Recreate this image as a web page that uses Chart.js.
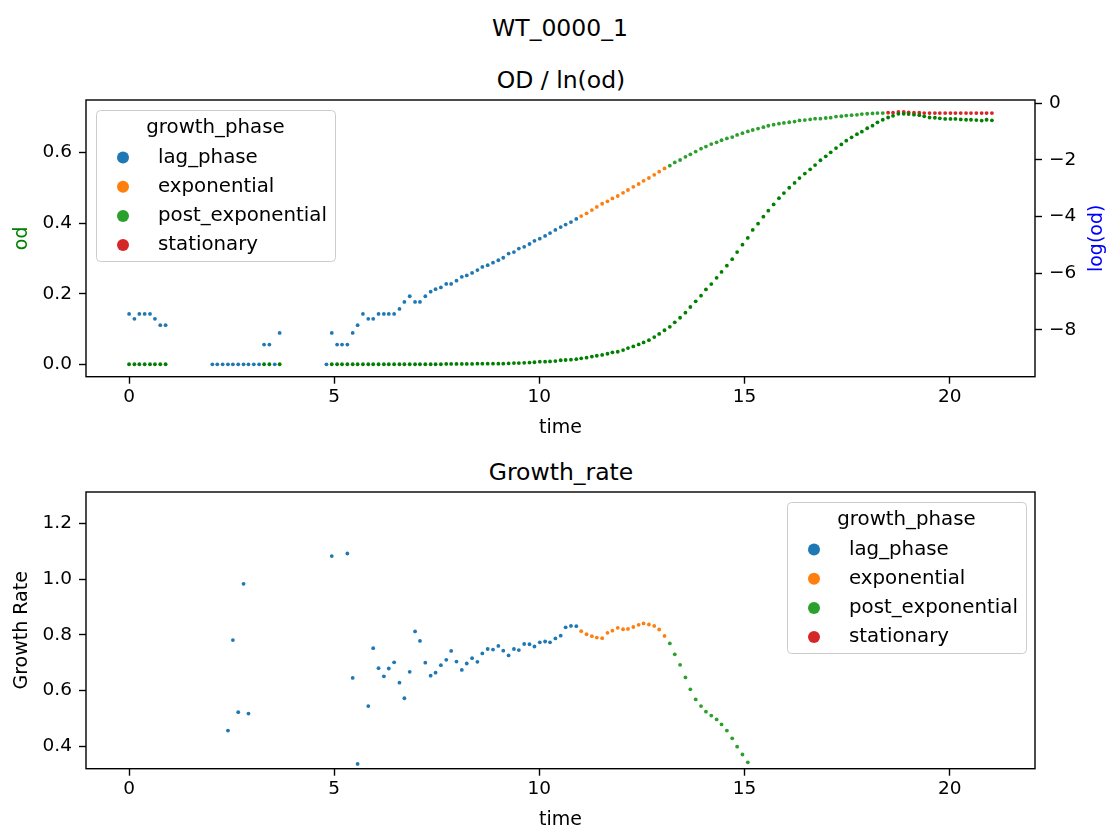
<!DOCTYPE html>
<html>
<head>
<meta charset="utf-8">
<script src="https://cdn.jsdelivr.net/npm/chart.js@4.4.1/dist/chart.umd.min.js"></script>
<style>
  html, body { margin: 0; padding: 0; background: #fff; }
  body { width: 1110px; height: 827px; position: relative; overflow: hidden; font-family: 'DejaVu Sans', sans-serif; }
  .title { position: absolute; transform: translate(-50%, -50%); font-size: 23.5px; white-space: nowrap; color: #000; }
  .panel { position: absolute; left: 0; width: 1110px; height: 350px; }
</style>
</head>
<body>
<div class="title" style="left:560px; top:28px">WT_0000_1</div>
<div class="title" style="left:561px; top:80px">OD / ln(od)</div>
<div class="title" style="left:561px; top:472px">Growth_rate</div>
<div class="panel" style="top:90px"><canvas id="odChart"></canvas></div>
<div class="panel" style="top:482px"><canvas id="rateChart"></canvas></div>
<script>
const phaseNames = ['lag_phase', 'exponential', 'post_exponential', 'stationary'];
const phaseColors = ['#1f77b4', '#ff7f0e', '#2ca02c', '#d62728'];
// time (h) where each phase begins
const phaseStarts = [0, 11.02, 13.18, 18.50];

const time = [
  0, 0.13, 0.25, 0.38, 0.51, 0.63, 0.76, 0.89,
  2.03, 2.15, 2.28, 2.41, 2.53, 2.66, 2.79, 2.91, 3.04, 3.17, 3.29, 3.42, 3.55, 3.67,
  4.81, 4.94, 5.07, 5.19, 5.32, 5.45, 5.57, 5.70, 5.83, 5.95,
  6.08, 6.21, 6.33, 6.46, 6.59, 6.71, 6.84, 6.97, 7.09, 7.22,
  7.35, 7.47, 7.60, 7.73, 7.85, 7.98, 8.11, 8.23, 8.36, 8.49,
  8.61, 8.74, 8.87, 9.00, 9.12, 9.25, 9.38, 9.50, 9.63, 9.76,
  9.88, 10.01, 10.14, 10.26, 10.39, 10.52, 10.64, 10.77, 10.90, 11.02,
  11.15, 11.28, 11.40, 11.53, 11.66, 11.78, 11.91, 12.04, 12.16, 12.29,
  12.42, 12.54, 12.67, 12.80, 12.92, 13.05, 13.18, 13.30, 13.43, 13.56,
  13.68, 13.81, 13.94, 14.06, 14.19, 14.32, 14.44, 14.57, 14.70, 14.82,
  14.95, 15.08, 15.20, 15.33, 15.46, 15.58, 15.71, 15.84, 15.96, 16.09,
  16.22, 16.34, 16.47, 16.60, 16.72, 16.85, 16.98, 17.10, 17.23, 17.36,
  17.48, 17.61, 17.74, 17.86, 17.99, 18.12, 18.24, 18.37, 18.50, 18.62,
  18.75, 18.88, 19.00, 19.13, 19.26, 19.38, 19.51, 19.64, 19.76, 19.89,
  20.02, 20.14, 20.27, 20.40, 20.52, 20.65, 20.78, 20.90, 21.03
];

const od = [
  0.143, 0.129, 0.143, 0.143, 0.143, 0.129, 0.111, 0.111,
  0, 0, 0, 0, 0, 0, 0, 0, 0, 0, 0.056, 0.056, 0, 0.089,
  0, 0.089, 0.056, 0.056, 0.056, 0.089, 0.111, 0.143, 0.129, 0.129,
  0.143, 0.143, 0.143, 0.143, 0.157, 0.177, 0.193, 0.177, 0.177, 0.193,
  0.206, 0.213, 0.218, 0.228, 0.228, 0.237, 0.248, 0.252, 0.259, 0.267,
  0.276, 0.281, 0.288, 0.295, 0.302, 0.314, 0.318, 0.328, 0.333, 0.341,
  0.350, 0.356, 0.364, 0.372, 0.381, 0.389, 0.396, 0.403, 0.412, 0.420,
  0.428, 0.437, 0.446, 0.455, 0.462, 0.470, 0.477, 0.486, 0.494, 0.503,
  0.511, 0.520, 0.528, 0.537, 0.546, 0.555, 0.563, 0.572, 0.579, 0.588,
  0.595, 0.603, 0.611, 0.617, 0.624, 0.629, 0.635, 0.640, 0.644, 0.650,
  0.655, 0.660, 0.664, 0.668, 0.672, 0.676, 0.679, 0.682, 0.684, 0.686,
  0.688, 0.691, 0.692, 0.694, 0.696, 0.696, 0.698, 0.699, 0.702, 0.703,
  0.705, 0.706, 0.707, 0.709, 0.710, 0.711, 0.712, 0.712, 0.713, 0.713,
  0.715, 0.715, 0.714, 0.713, 0.713, 0.712, 0.712, 0.712, 0.712, 0.712,
  0.712, 0.712, 0.712, 0.712, 0.712, 0.712, 0.712, 0.712, 0.712
];

const logOd = [
  -9.21, -9.21, -9.21, -9.21, -9.21, -9.21, -9.21, -9.21,
  null, null, null, null, null, null, null, null, null, null, -9.21, -9.21, null, -9.21,
  null, -9.21, -9.21, -9.21, -9.21, -9.21, -9.21, -9.21, -9.21, -9.21,
  -9.21, -9.21, -9.21, -9.21, -9.21, -9.21, -9.21, -9.21, -9.21, -9.21,
  -9.21, -9.21, -9.21, -9.20, -9.20, -9.20, -9.20, -9.20, -9.20, -9.19,
  -9.19, -9.19, -9.19, -9.19, -9.19, -9.18, -9.17, -9.17, -9.16, -9.15,
  -9.14, -9.12, -9.12, -9.11, -9.10, -9.07, -9.06, -9.05, -9.03, -9.00,
  -8.98, -8.94, -8.91, -8.88, -8.84, -8.79, -8.77, -8.71, -8.64, -8.58,
  -8.51, -8.44, -8.36, -8.25, -8.14, -8.01, -7.89, -7.73, -7.57, -7.39,
  -7.19, -6.99, -6.79, -6.57, -6.38, -6.16, -5.95, -5.73, -5.50, -5.25,
  -4.99, -4.75, -4.47, -4.25, -4.00, -3.79, -3.57, -3.35, -3.17, -2.98,
  -2.81, -2.64, -2.48, -2.33, -2.18, -2.01, -1.87, -1.73, -1.58, -1.45,
  -1.32, -1.20, -1.09, -1.00, -0.88, -0.79, -0.67, -0.58, -0.50, -0.44,
  -0.37, -0.37, -0.38, -0.40, -0.42, -0.46, -0.50, -0.51, -0.53, -0.55,
  -0.55, -0.55, -0.57, -0.58, -0.58, -0.59, -0.61, -0.58, -0.60
];

const growthRate = [
  null, null, null, null, null, null, null, null,
  null, null, null, 0.456, 0.781, 0.522, 0.983, 0.517, null, null, null, null, null, null,
  null, 1.083, null, null, 1.092, 0.645, 0.336, null, 0.544, 0.752,
  0.680, 0.651, 0.679, 0.701, 0.628, 0.572, 0.667, 0.812, 0.778, 0.700,
  0.653, 0.664, 0.691, 0.710, 0.742, 0.704, 0.674, 0.697, 0.716, 0.703,
  0.733, 0.749, 0.747, 0.760, 0.743, 0.726, 0.749, 0.745, 0.767, 0.766,
  0.758, 0.773, 0.776, 0.773, 0.787, 0.797, 0.827, 0.832, 0.831, 0.813,
  0.802, 0.795, 0.790, 0.788, 0.807, 0.815, 0.825, 0.820, 0.821, 0.828,
  0.836, 0.841, 0.837, 0.832, 0.819, 0.796, 0.769, 0.730, 0.692, 0.647,
  0.604, 0.568, 0.544, 0.524, 0.510, 0.496, 0.478, 0.456, 0.428, 0.398,
  0.370, 0.342, null, null, null, null, null, null, null, null,
  null, null, null, null, null, null, null, null, null, null,
  null, null, null, null, null, null, null, null, null, null,
  null, null, null, null, null, null, null, null, null, null,
  null, null, null, null, null, null, null, null, null
];

Chart.defaults.font.family = "'DejaVu Sans'";
Chart.defaults.font.size = 18.5;
Chart.defaults.color = '#000';

const legendFont = "19.8px 'DejaVu Sans'";
const labelFont = { size: 19 };

function phaseOf(t) {
  let p = 0;
  phaseStarts.forEach((s, k) => { if (t >= s) p = k; });
  return p;
}

function points(values, k) {
  return time.map((t, i) => ({ x: t, y: values[i] }))
    .filter((p, i) => p.y !== null && (k === undefined || phaseOf(time[i]) === k));
}

function phaseDatasets(values) {
  return phaseNames.map((name, k) => ({
    label: name,
    data: points(values, k),
    yAxisID: 'y',
    backgroundColor: phaseColors[k],
    pointRadius: 1.9,
    pointBorderWidth: 0,
    order: 1
  }));
}

// black box around the plotting area
const framePlugin = {
  id: 'frame',
  afterDraw(chart) {
    const { ctx, chartArea: a } = chart;
    ctx.save();
    ctx.strokeStyle = '#000';
    ctx.lineWidth = 1.4;
    ctx.strokeRect(a.left, a.top, a.right - a.left, a.bottom - a.top);
    ctx.restore();
  }
};

// growth_phase legend in a rounded box
const phaseLegend = {
  id: 'phaseLegend',
  afterDatasetsDraw(chart, args, opts) {
    const { ctx, chartArea: a } = chart;
    const w = 239, h = 151;
    const left = opts.corner === 'right' ? a.right - 9 - w : a.left + 10;
    const top = a.top + 10;
    ctx.save();
    ctx.beginPath();
    ctx.roundRect(left + 0.5, top + 0.5, w, h, 4);
    ctx.fillStyle = 'rgba(255,255,255,0.8)';
    ctx.fill();
    ctx.strokeStyle = '#cccccc';
    ctx.lineWidth = 1;
    ctx.stroke();
    ctx.font = legendFont;
    ctx.fillStyle = '#000';
    ctx.textBaseline = 'middle';
    ctx.textAlign = 'center';
    ctx.fillText('growth_phase', left + w / 2, top + 18);
    ctx.textAlign = 'left';
    phaseNames.forEach((name, k) => {
      const y = top + 47.5 + k * 29.2;
      ctx.beginPath();
      ctx.arc(left + 27, y, 6, 0, Math.PI * 2);
      ctx.fillStyle = phaseColors[k];
      ctx.fill();
      ctx.fillStyle = '#000';
      ctx.fillText(name, left + 62, y);
    });
    ctx.restore();
  }
};

// right-hand axis label, rotated like the left one
const rightLabel = {
  id: 'rightLabel',
  afterDraw(chart) {
    const { ctx, chartArea: a } = chart;
    const s = chart.scales.y2;
    ctx.save();
    ctx.translate(s.right - 13, (a.top + a.bottom) / 2);
    ctx.rotate(-Math.PI / 2);
    ctx.font = "19px 'DejaVu Sans'";
    ctx.fillStyle = 'blue';
    ctx.textAlign = 'center';
    ctx.textBaseline = 'middle';
    ctx.fillText('log(od)', 0, 0);
    ctx.restore();
  }
};

const tickGrid = { drawOnChartArea: false, tickLength: 7, tickWidth: 1.4, tickColor: '#000' };

function timeAxis() {
  return {
    type: 'linear',
    min: -1.05,
    max: 22.08,
    ticks: { stepSize: 5, includeBounds: false, padding: 2, callback: v => String(v) },
    grid: tickGrid,
    border: { display: false },
    title: { display: true, text: 'time', font: labelFont, padding: { top: 0, bottom: 1 } },
    afterFit: s => { s.height = 63.3; s.paddingLeft = 0; s.paddingRight = 0; }
  };
}

function leftAxis(min, max, label, color) {
  return {
    position: 'left',
    min: min,
    max: max,
    ticks: { stepSize: 0.2, includeBounds: false, padding: 7, callback: v => v.toFixed(1) },
    grid: tickGrid,
    border: { display: false },
    title: { display: true, text: label, color: color, font: labelFont, padding: { top: 11, bottom: 0 } },
    afterFit: s => { s.width = 86; s.paddingTop = 0; s.paddingBottom = 0; }
  };
}

const common = {
  responsive: true,
  maintainAspectRatio: false,
  animation: false,
  events: []
};

new Chart(document.getElementById('odChart'), {
  type: 'scatter',
  data: {
    datasets: [
      {
        label: 'log(od)',
        data: points(logOd),
        yAxisID: 'y2',
        backgroundColor: '#008000',
        pointRadius: 1.9,
        pointBorderWidth: 0,
        order: 0
      },
      ...phaseDatasets(od)
    ]
  },
  options: {
    ...common,
    layout: { autoPadding: false, padding: { top: 10, left: 0, right: 0, bottom: 0 } },
    scales: {
      x: timeAxis(),
      y: leftAxis(-0.035, 0.749, 'od', 'green'),
      y2: {
        position: 'right',
        min: -9.65,
        max: 0.117,
        ticks: {
          stepSize: 2, includeBounds: false, padding: 7,
          callback: v => (v < 0 ? '\u2212' + Math.abs(v) : String(v))
        },
        grid: tickGrid,
        border: { display: false },
        afterFit: s => { s.width = 75; s.paddingTop = 0; s.paddingBottom = 0; }
      }
    },
    plugins: {
      legend: { display: false },
      tooltip: { enabled: false },
      phaseLegend: { corner: 'left' }
    }
  },
  plugins: [framePlugin, phaseLegend, rightLabel]
});

new Chart(document.getElementById('rateChart'), {
  type: 'scatter',
  data: { datasets: phaseDatasets(growthRate) },
  options: {
    ...common,
    layout: { autoPadding: false, padding: { top: 10, left: 0, right: 75, bottom: 0 } },
    scales: {
      x: timeAxis(),
      y: leftAxis(0.319, 1.313, 'Growth Rate', '#000')
    },
    plugins: {
      legend: { display: false },
      tooltip: { enabled: false },
      phaseLegend: { corner: 'right' }
    }
  },
  plugins: [framePlugin, phaseLegend]
});
</script>
</body>
</html>
